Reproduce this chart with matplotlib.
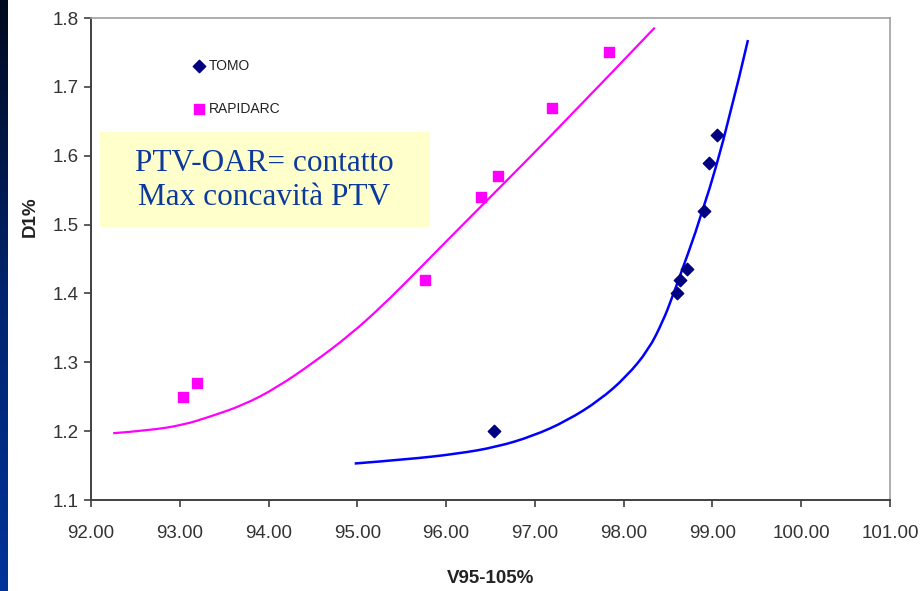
import numpy as np
import matplotlib
matplotlib.use("Agg")
import matplotlib.pyplot as plt
from matplotlib.patches import Rectangle, PathPatch
from matplotlib.path import Path
from matplotlib.colors import LinearSegmentedColormap

# --- data -------------------------------------------------------------
tomo_v95 = [96.54, 98.60, 98.63, 98.71, 98.90, 98.96, 99.05]
tomo_d1 = [1.20, 1.40, 1.42, 1.435, 1.52, 1.59, 1.63]

rapidarc_v95 = [93.04, 93.19, 95.76, 96.39, 96.58, 97.19, 97.84]
rapidarc_d1 = [1.25, 1.27, 1.42, 1.54, 1.57, 1.67, 1.75]

# hand-drawn trend curves (control points in data units)
tomo_curve_x = [94.97, 95.56, 96.12, 96.57, 96.98, 97.36, 97.73, 98.03,
                98.28, 98.44, 98.55, 98.90, 99.19, 99.40]
tomo_curve_y = [1.153, 1.159, 1.167, 1.177, 1.193, 1.215, 1.245, 1.279,
                1.318, 1.359, 1.395, 1.521, 1.652, 1.768]

rapidarc_curve_x = [92.25, 92.65, 93.04, 93.34, 93.72, 94.09, 94.50, 94.92,
                    95.29, 95.67, 96.02, 96.36, 97.36, 98.35]
rapidarc_curve_y = [1.197, 1.201, 1.209, 1.221, 1.238, 1.263, 1.299, 1.340,
                    1.383, 1.432, 1.478, 1.522, 1.652, 1.786]

x_ticks = [92.0, 93.0, 94.0, 95.0, 96.0, 97.0, 98.0, 99.0, 100.0, 101.0]
y_ticks = [1.1, 1.2, 1.3, 1.4, 1.5, 1.6, 1.7, 1.8]

plt.rcParams['font.family'] = ['Liberation Sans', 'DejaVu Sans']

fig = plt.figure(figsize=(9.22, 5.91), dpi=100)
fig.patch.set_facecolor('white')

# dark blue slide edge on the left
strip = fig.add_axes([0, 0, 7 / 922, 1])
grad = np.linspace(0, 1, 256).reshape(-1, 1)
cmap = LinearSegmentedColormap.from_list('edge', ['#000a1e', '#00246e', '#003399'])
strip.imshow(grad, aspect='auto', cmap=cmap, extent=[0, 1, 0, 1], origin='upper')
strip.set_axis_off()

ax = fig.add_axes([91 / 922, 1 - 500 / 591, (890 - 91) / 922, (500 - 18) / 591])


def smooth_path(xs, ys):
    """Quadratic B-spline style path through a list of control points."""
    pts = np.column_stack([xs, ys])
    verts = [pts[0]]
    codes = [Path.MOVETO]
    for i in range(1, len(pts) - 1):
        mid = (pts[i] + pts[i + 1]) / 2 if i < len(pts) - 2 else pts[i + 1]
        verts += [pts[i], mid]
        codes += [Path.CURVE3, Path.CURVE3]
    return Path(verts, codes)


ax.add_patch(PathPatch(smooth_path(rapidarc_curve_x, rapidarc_curve_y),
                       facecolor='none', edgecolor='#ff00ff', lw=1.6, zorder=2))
ax.add_patch(PathPatch(smooth_path(tomo_curve_x, tomo_curve_y),
                       facecolor='none', edgecolor='#0000ff', lw=1.8, zorder=2))

ax.scatter(tomo_v95, tomo_d1, marker='D', s=40, color='#000080', zorder=3, label='TOMO')
ax.scatter(rapidarc_v95, rapidarc_d1, marker='s', s=44, color='#ff00ff', zorder=3, label='RAPIDARC')

ax.set_xlim(92, 101)
ax.set_ylim(1.1, 1.8)
ax.set_xticks(x_ticks)
ax.set_xticklabels([f"{v:.2f}" for v in x_ticks])
ax.set_yticks(y_ticks)
ax.set_yticklabels([f"{v:.1f}" for v in y_ticks])

for side in ('left', 'bottom'):
    ax.spines[side].set_color('#404040')
    ax.spines[side].set_linewidth(1.4)
for side in ('top', 'right'):
    ax.spines[side].set_color('#a0a0a0')
    ax.spines[side].set_linewidth(1.2)

ax.tick_params(axis='both', direction='out', length=5, width=1.2, color='#404040',
               labelsize=13.5, labelcolor='#333333')
ax.tick_params(axis='x', pad=13)
ax.tick_params(axis='y', pad=4)

ax.set_xlabel('V95-105%', fontsize=13.5, fontweight='bold', labelpad=20, color='#222222')
ax.set_ylabel('D1%', fontsize=13.5, fontweight='bold', color='#222222')
ax.yaxis.set_label_coords(-0.065, 0.587)

leg = ax.legend(loc='upper left', bbox_to_anchor=(0.12, 0.927), frameon=False,
                fontsize=10, labelspacing=2.1, handletextpad=0.25, handlelength=0.9,
                borderaxespad=0)
for t in leg.get_texts():
    t.set_color('#222222')

# annotation box
ax.add_patch(Rectangle((0.011, 0.566), 0.413, 0.197, transform=ax.transAxes,
                       facecolor='#ffffcc', edgecolor='none', zorder=1))
ax.text(0.217, 0.662, 'PTV-OAR= contatto\nMax concavità PTV', transform=ax.transAxes,
        ha='center', va='center', fontsize=22.5, family=['Liberation Serif', 'DejaVu Serif'],
        color='#0b3a9c', linespacing=1.22, zorder=4)

fig.savefig('out.png', dpi=100)
